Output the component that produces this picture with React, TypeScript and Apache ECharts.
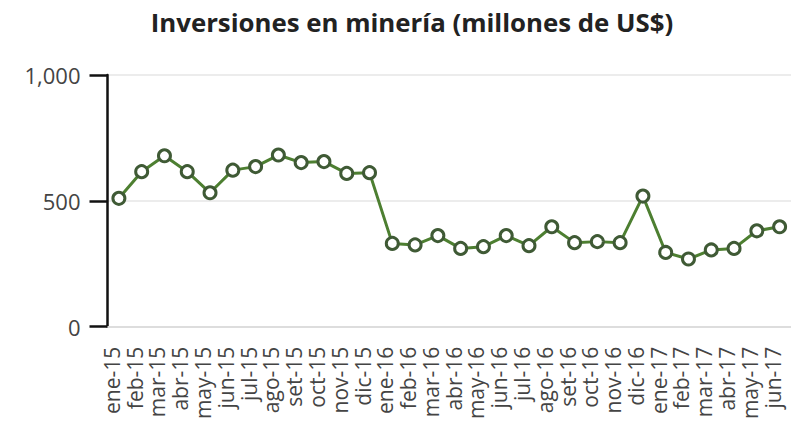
import React, { useEffect, useRef } from "react";
import * as echarts from "echarts";

const categories = [
  "ene-15", "feb-15", "mar-15", "abr-15", "may-15", "jun-15", "jul-15", "ago-15", "set-15", "oct-15", "nov-15", "dic-15",
  "ene-16", "feb-16", "mar-16", "abr-16", "may-16", "jun-16", "jul-16", "ago-16", "set-16", "oct-16", "nov-16", "dic-16",
  "ene-17", "feb-17", "mar-17", "abr-17", "may-17", "jun-17",
];
const inversiones = [
  510, 616, 679, 616, 532, 622, 636, 682, 652, 656, 609, 612,
  331, 325, 362, 311, 318, 362, 322, 397, 334, 338, 334, 519,
  295, 269, 305, 311, 381, 397,
];
const titleText = "Inversiones en minería (millones de US$)";

export default function App() {
  const ref = useRef<HTMLDivElement>(null);
  useEffect(() => {
    if (!ref.current) return;
    const chart = echarts.init(ref.current, null, { renderer: "svg" });
    chart.setOption({
      animation: false,
      backgroundColor: "#ffffff",
      title: {
        text: titleText,
        left: 407,
        top: 4,
        textAlign: "center",
        textStyle: { fontFamily: "Open Sans", fontWeight: "bold", fontSize: 25.8, color: "#222" },
      },
      grid: { left: 107.5, top: 75, width: 689, height: 251.7, containLabel: false },
      xAxis: {
        type: "category",
        data: categories,
        boundaryGap: true,
        axisLine: { show: true, lineStyle: { color: "#dddddd", width: 2 } },
        axisTick: { show: false },
        axisLabel: {
          rotate: 90,
          interval: 0,
          margin: 20,
          fontFamily: "Open Sans",
          fontSize: 21,
          lineHeight: 14,
          verticalAlign: "bottom",
          color: "#444",
        },
      },
      yAxis: {
        type: "value",
        min: 0,
        max: 1000,
        interval: 500,
        axisLine: { show: true, lineStyle: { color: "#111", width: 2.5 } },
        axisTick: { show: true, length: 18, lineStyle: { color: "#111", width: 2.5 } },
        axisLabel: {
          margin: 27,
          fontFamily: "Open Sans",
          fontSize: 22,
          color: "#444",
          formatter: (v: number) => v.toLocaleString("en-US"),
        },
        splitLine: { show: true, lineStyle: { color: "#e6e6e6", width: 1.5 } },
      },
      series: [
        {
          type: "line",
          data: inversiones,
          symbol: "circle",
          symbolSize: 12,
          lineStyle: { color: "#4d7f31", width: 3 },
          itemStyle: { color: "#ffffff", borderColor: "#3f5a35", borderWidth: 3 },
        },
      ],
    });
    return () => chart.dispose();
  }, []);
  return (
    <div
      ref={ref}
      style={{ position: "fixed", left: 0, top: 0, width: 791, height: 426 }}
    />
  );
}
